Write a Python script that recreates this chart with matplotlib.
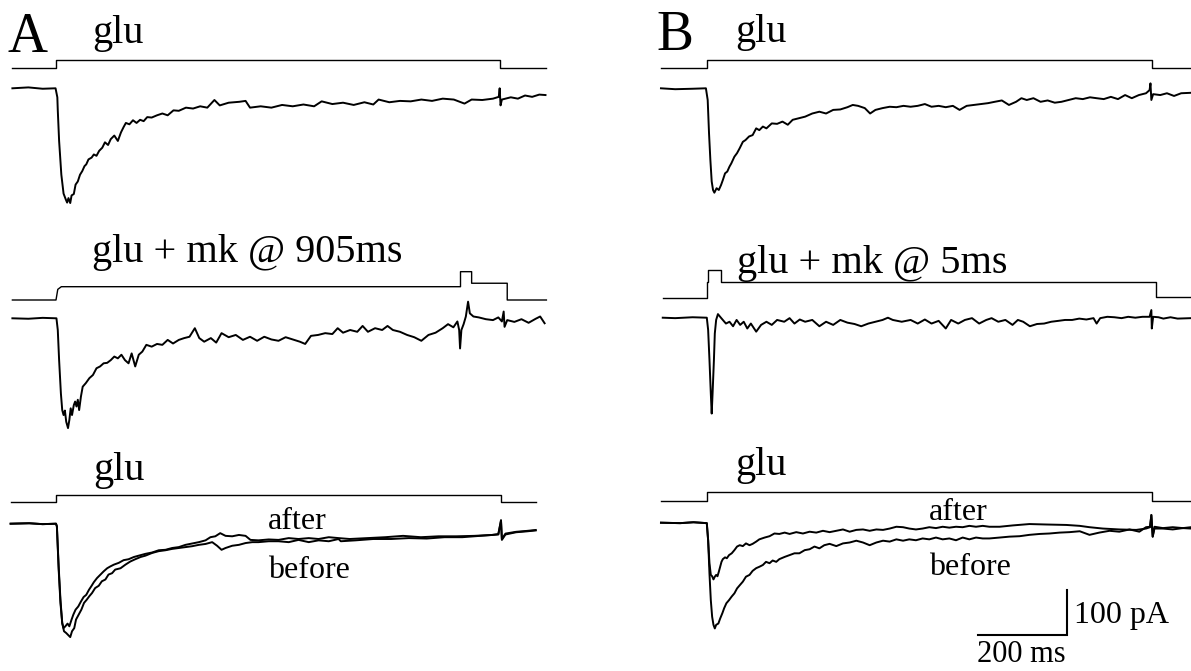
import matplotlib
matplotlib.use("Agg")
import matplotlib.pyplot as plt
import numpy as np

plt.rcParams["font.family"] = ["Liberation Serif", "DejaVu Serif"]

# scale: 200 ms and 100 pA bars
KX = 0.445   # px per ms
KY = 0.45    # px per pA
W, H = 1191, 671

# ---- panel A, glu (t ms, I pA)
a1 = [(-98, 0), (-62, 2), (-30, -1), (-1, 0), (3, -20), (4, -49), (7, -117), (12, -192),
      (17, -234), (22, -247), (25, -254), (28, -244), (32, -255), (35, -238), (40, -235),
      (44, -214), (49, -207), (54, -192), (59, -184), (64, -173), (68, -169), (73, -158),
      (80, -154), (85, -147), (91, -150), (97, -139), (104, -132), (110, -120), (117, -126),
      (123, -113), (131, -105), (139, -117), (146, -98), (152, -86), (157, -77), (165, -80),
      (173, -71), (181, -77), (189, -70), (197, -73), (205, -64), (215, -65), (227, -60),
      (239, -56), (251, -60), (264, -49), (276, -50), (292, -43), (308, -45), (324, -40),
      (340, -43), (356, -26), (368, -38), (388, -32), (412, -30), (426, -28), (436, -43),
      (460, -40), (484, -43), (508, -37), (532, -40), (556, -36), (580, -40), (597, -29),
      (621, -35), (645, -32), (669, -37), (693, -31), (713, -36), (725, -25), (749, -31),
      (773, -28), (797, -29), (821, -25), (845, -28), (869, -23), (894, -25), (918, -34),
      (934, -25), (958, -26), (982, -23), (995, -19), (997, 0), (999, -38), (1002, -25),
      (1022, -20), (1038, -23), (1054, -16), (1070, -19), (1086, -14), (1100, -15)]

# ---- panel A, glu + mk @ 905 ms
a2 = [(-98, 0), (-62, -1), (-30, 1), (1, 0), (4, -26), (7, -93), (11, -167), (14, -204),
      (17, -215), (20, -205), (23, -230), (27, -244), (30, -226), (33, -200), (36, -215),
      (40, -193), (43, -185), (46, -196), (49, -181), (52, -204), (56, -174), (60, -152),
      (67, -144), (75, -133), (83, -126), (91, -111), (99, -107), (107, -100), (115, -99),
      (123, -93), (131, -85), (139, -89), (147, -81), (155, -93), (163, -100), (170, -78),
      (178, -107), (186, -81), (194, -74), (203, -59), (215, -63), (227, -57), (239, -59),
      (251, -48), (263, -56), (276, -48), (288, -44), (300, -41), (312, -22), (322, -44),
      (333, -52), (348, -44), (360, -54), (372, -33), (388, -42), (404, -37), (420, -48),
      (436, -41), (452, -50), (468, -41), (484, -47), (500, -50), (516, -42), (532, -47),
      (548, -52), (560, -57), (573, -39), (589, -37), (605, -33), (621, -35), (633, -22),
      (645, -32), (661, -26), (677, -30), (689, -17), (701, -30), (717, -22), (733, -26),
      (745, -17), (757, -26), (773, -30), (789, -37), (805, -42), (821, -50), (837, -37),
      (853, -32), (869, -22), (881, -13), (893, -20), (902, -7), (906, -26), (908, -67),
      (911, -26), (916, -13), (921, 4), (926, 37), (930, 11), (938, 4), (950, 2), (966, -2),
      (982, -4), (994, 2), (1002, -7), (1006, 15), (1008, -19), (1014, -4), (1030, -8),
      (1046, -2), (1062, -10), (1078, -1), (1088, 4), (1098, -11)]

# ---- panel A, glu again: before / after
a3_before = [(-102, 0), (-60, 1), (-30, -1), (0, 0), (2, -6), (6, -95), (10, -169), (14, -221),
             (18, -239), (23, -243), (27, -247), (32, -252), (36, -239), (41, -232), (45, -213),
             (51, -202), (57, -191), (63, -176), (69, -169), (75, -161), (81, -154), (88, -143),
             (96, -138), (103, -128), (111, -124), (118, -113), (126, -110), (133, -102),
             (145, -99), (156, -91), (167, -84), (178, -79), (190, -74), (201, -71), (216, -65),
             (231, -61), (246, -59), (261, -56), (276, -54), (291, -52), (306, -50), (321, -47),
             (336, -45), (351, -41), (362, -49), (372, -58), (381, -54), (396, -49), (411, -47),
             (426, -43), (441, -41), (455, -41), (478, -39), (500, -39), (523, -41), (545, -36),
             (568, -41), (590, -37), (613, -39), (635, -34), (640, -39), (673, -37), (713, -34),
             (753, -34), (793, -32), (833, -33), (873, -30), (913, -30), (953, -27), (994, -24),
             (1000, 8), (1002, -36), (1010, -24), (1034, -19), (1058, -17), (1078, -15)]
a3_after = [(-102, 0), (-60, 1), (-30, -1), (0, 0), (2, -6), (6, -102), (10, -176), (14, -221),
            (17, -232), (21, -228), (26, -222), (30, -228), (35, -213), (39, -202), (44, -191),
            (50, -184), (56, -173), (62, -163), (68, -158), (74, -147), (80, -138), (85, -130),
            (92, -121), (100, -113), (107, -106), (115, -99), (122, -95), (130, -91), (141, -87),
            (152, -81), (163, -79), (175, -74), (186, -71), (201, -67), (216, -64), (231, -59),
            (246, -58), (261, -54), (276, -52), (291, -47), (306, -44), (321, -41), (336, -37),
            (347, -30), (358, -28), (369, -21), (381, -27), (396, -28), (411, -25), (426, -27),
            (437, -36), (455, -37), (478, -35), (500, -36), (523, -32), (545, -34), (568, -32),
            (590, -34), (613, -30), (635, -32), (660, -34), (700, -32), (740, -30), (780, -27),
            (820, -30), (860, -28), (900, -28), (940, -27), (980, -25), (994, -23), (1000, 6),
            (1002, -34), (1010, -22), (1034, -18), (1058, -16), (1078, -14)]

# ---- panel B, glu
b1 = [(-103, 0), (-71, -2), (-32, -1), (-2, 0), (2, -26), (5, -100), (8, -159), (11, -207),
      (14, -226), (17, -232), (22, -222), (27, -226), (32, -215), (36, -204), (41, -189),
      (46, -185), (51, -174), (55, -167), (62, -152), (68, -144), (74, -133), (81, -119),
      (87, -115), (95, -107), (103, -104), (111, -89), (118, -93), (126, -85), (134, -89),
      (146, -78), (158, -79), (170, -74), (182, -81), (193, -70), (205, -67), (221, -63),
      (237, -56), (253, -52), (268, -56), (284, -48), (300, -47), (316, -42), (328, -37),
      (340, -39), (355, -44), (367, -56), (379, -48), (395, -44), (411, -41), (426, -42),
      (442, -39), (458, -41), (474, -39), (490, -35), (505, -41), (521, -39), (537, -42),
      (553, -39), (568, -48), (584, -39), (600, -37), (616, -35), (632, -33), (647, -30),
      (663, -27), (679, -37), (695, -30), (707, -22), (719, -26), (734, -22), (750, -30),
      (766, -27), (782, -32), (797, -30), (813, -26), (829, -22), (845, -24), (861, -20),
      (876, -22), (892, -24), (908, -19), (924, -24), (940, -15), (955, -22), (971, -15),
      (987, -11), (995, -4), (997, 11), (999, -26), (1003, -13), (1019, -15), (1034, -11),
      (1050, -17), (1066, -11), (1088, -10)]

# ---- panel B, glu + mk @ 5 ms
b2 = [(-99, 0), (-71, -1), (-32, 1), (0, 0), (3, -27), (6, -94), (9, -168), (11, -213),
      (13, -168), (16, -94), (18, -35), (21, -5), (25, 8), (30, 2), (36, -5), (43, -13),
      (51, -9), (59, -19), (67, -5), (75, -16), (83, -9), (91, -24), (99, -13), (111, -31),
      (122, -16), (134, -9), (146, -16), (158, -5), (174, -9), (186, -1), (197, -13),
      (209, -4), (221, -9), (237, -5), (253, -19), (268, -9), (284, -16), (300, -5),
      (316, -11), (332, -14), (347, -19), (363, -13), (379, -9), (395, -5), (407, 0),
      (418, -5), (438, -9), (458, -5), (474, -13), (490, -4), (505, -13), (521, -7),
      (537, -24), (549, -5), (565, -13), (580, -5), (596, -1), (612, -13), (628, -5),
      (640, -1), (655, -9), (671, -5), (687, -16), (699, -5), (711, -9), (726, -19),
      (742, -14), (758, -13), (774, -9), (790, -7), (805, -5), (821, -5), (837, -2),
      (853, -4), (869, -1), (876, -13), (884, -1), (900, 2), (916, 1), (932, -1), (947, 2),
      (963, 0), (979, 2), (995, 2), (999, 17), (1000, -24), (1003, 2), (1015, 1), (1026, -2),
      (1042, 1), (1058, -2), (1088, -1)]

# ---- panel B, glu again: before / after
b3_before = [(-103, 0), (-60, -1), (-30, 1), (0, -1), (3, -39), (6, -113), (9, -172),
             (12, -209), (15, -227), (18, -235), (21, -227), (26, -224), (30, -213), (35, -201),
             (39, -190), (44, -179), (50, -172), (56, -164), (62, -157), (68, -146), (74, -139),
             (81, -131), (88, -120), (96, -116), (103, -107), (111, -101), (118, -98), (126, -94),
             (133, -87), (141, -90), (148, -84), (156, -87), (163, -81), (175, -76), (186, -72),
             (197, -68), (208, -68), (220, -61), (231, -59), (242, -53), (253, -57), (264, -50),
             (276, -47), (291, -52), (306, -46), (321, -44), (336, -40), (351, -44), (366, -50),
             (381, -44), (396, -40), (411, -42), (426, -37), (441, -40), (455, -37), (470, -39),
             (485, -35), (500, -37), (515, -33), (530, -37), (545, -35), (560, -39), (575, -33),
             (590, -37), (605, -33), (620, -35), (635, -35), (658, -33), (680, -31), (703, -30),
             (725, -27), (748, -25), (770, -24), (793, -22), (815, -21), (838, -19), (860, -27),
             (882, -22), (905, -18), (927, -20), (950, -15), (972, -20), (987, -10), (996, -9),
             (999, 17), (1002, -31), (1006, -13), (1025, -13), (1047, -15), (1070, -12),
             (1088, -13)]
b3_after = [(-103, 0), (-60, -1), (-30, 1), (0, -1), (3, -39), (6, -90), (9, -116), (12, -119),
            (15, -126), (18, -120), (21, -116), (24, -119), (27, -109), (30, -98), (33, -87),
            (36, -81), (41, -77), (45, -79), (50, -72), (56, -68), (62, -61), (68, -53),
            (74, -50), (81, -52), (88, -46), (96, -50), (103, -47), (111, -42), (118, -37),
            (130, -33), (141, -30), (152, -24), (163, -25), (175, -22), (186, -25), (201, -21),
            (216, -24), (231, -20), (246, -22), (261, -18), (276, -21), (291, -18), (306, -15),
            (321, -20), (336, -16), (351, -15), (366, -18), (381, -15), (396, -16), (411, -13),
            (426, -9), (441, -10), (455, -13), (470, -15), (485, -13), (500, -10), (515, -12),
            (530, -9), (545, -11), (560, -9), (575, -10), (590, -7), (605, -9), (620, -7),
            (635, -9), (658, -9), (688, -6), (725, -3), (763, -4), (808, -5), (838, -7),
            (860, -10), (890, -13), (927, -15), (965, -16), (987, -13), (996, -10), (999, 17),
            (1002, -31), (1006, -9), (1025, -12), (1047, -10), (1070, -12), (1088, -10)]

# ---- solution command traces (0 = wash, 1 = glu, higher = glu + mk pulse)
a1_cmd_t = [-98, 0, 0, 998, 998, 1100]
a1_cmd = [0, 0, 1, 1, 0, 0]
a2_cmd_t = [-98, 0, 4, 12, 909, 909, 934, 934, 1014, 1014, 1102]
a2_cmd = [0, 0, 0.8, 1, 1, 2.13, 2.13, 1.26, 1.26, 0, 0]
a3_cmd_t = [-102, 0, 0, 1000, 1000, 1078]
a3_cmd = [0, 0, 1, 1, 0, 0]
b1_cmd_t = [-103, 0, 0, 1000, 1000, 1088]
b1_cmd = [0, 0, 1, 1, 0, 0]
b2_cmd_t = [-99, 0, 0, 3, 3, 33, 33, 1010, 1010, 1088]
b2_cmd = [0, 0, 1, 1, 1.77, 1.77, 1, 1, 0.1, 0.1]
b3_cmd_t = [-103, 0, 0, 1000, 1000, 1088]
b3_cmd = [0, 0, 1, 1, 0, 0]

bar_ms, bar_pA = 200, 100

fig = plt.figure(figsize=(W / 100, H / 100), dpi=100)
ax = fig.add_axes([0, 0, 1, 1])
ax.set_xlim(0, W / KX)
ax.set_ylim(-H / KY, 0)
ax.axis("off")


def at(xp, yp):
    # pixel position on the page -> (ms, pA) of the page axes
    return xp / KX, -yp / KY


def trace(pts, x0, y0):
    d = np.array(pts, dtype=float)
    ox, oy = at(x0, y0)
    ax.plot(d[:, 0] + ox, d[:, 1] + oy, color="black", lw=1.4, solid_joinstyle="round")


def command(t, lv, x0, y0, h):
    ox, oy = at(x0, y0)
    ax.plot(np.array(t) + ox, oy + np.array(lv) * h / KY, color="black", lw=1.0)


XA, XB = 56, 706.8

command(a1_cmd_t, a1_cmd, XA, 68.3, 8.3)
trace(a1, XA, 88.3)
command(a2_cmd_t, a2_cmd, XA, 300, 13.3)
trace(a2, XA, 318.3)
command(a3_cmd_t, a3_cmd, XA, 502.3, 7.3)
trace(a3_before, XA, 523.7)
trace(a3_after, XA, 523.7)

command(b1_cmd_t, b1_cmd, XB, 68.3, 8.3)
trace(b1, XB, 88.3)
command(b2_cmd_t, b2_cmd, XB, 298.3, 16)
trace(b2, XB, 317.7)
command(b3_cmd_t, b3_cmd, XB, 501, 8.7)
trace(b3_before, XB, 522.7)
trace(b3_after, XB, 522.7)

# scale bar
sx, sy = at(978, 635)
ax.plot([sx, sx + bar_ms, sx + bar_ms], [sy, sy, sy + bar_pA], color="black", lw=1.5,
        solid_joinstyle="miter")


def label(xp, yp, s, size):
    x, y = at(xp, yp)
    ax.text(x, y, s, fontsize=size, ha="left", va="baseline", color="black")


label(7, 51.7, "A", 40)
label(656, 50, "B", 40)
label(92, 43.3, "glu", 29)
label(92, 261.7, "glu + mk @ 905ms", 29)
label(93, 480, "glu", 29)
label(268, 529.3, "after", 23)
label(268, 578.3, "before", 23)
label(735, 41.7, "glu", 29)
label(737, 273.3, "glu + mk @ 5ms", 29)
label(735, 475, "glu", 29)
label(929, 520, "after", 23)
label(929, 575, "before", 23)
label(1074, 623.3, "100 pA", 23)
label(977, 662, "200 ms", 22)

fig.savefig("out.png", dpi=100)
